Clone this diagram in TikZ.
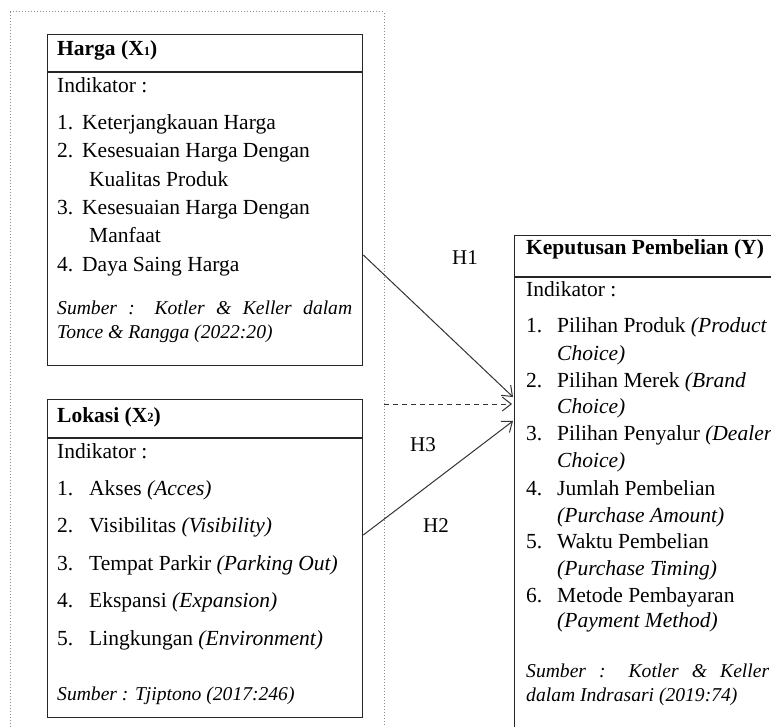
\documentclass[tikz,border=0pt]{standalone}
\usepackage{fontspec}
\setmainfont{Liberation Serif}
\usetikzlibrary{arrows.meta}
\begin{document}
\begin{tikzpicture}[x=1pt,y=-1pt,
  txt/.style={anchor=base west, inner sep=0pt, font=\fontsize{21.5}{25}\selectfont},
  hdr/.style={anchor=base west, inner sep=0pt, font=\fontsize{21.5}{25}\selectfont\bfseries},
  src/.style={anchor=base west, inner sep=0pt, font=\fontsize{19.6}{24}\selectfont\itshape, align=justify},
  boxline/.style={draw=black!85, line width=1.3pt},
  outer/.style={draw=black!45, line width=1pt, dotted},
  arr/.style={draw=black!80, line width=1pt, -{Straight Barb[length=9pt,width=14pt]}},
  lbl/.style={anchor=base west, inner sep=0pt, font=\fontsize{21}{25}\selectfont}]
\useasboundingbox (0,0) rectangle (771,727);
\clip (0,0) rectangle (771,727);
\fill[white] (0,0) rectangle (771,727);
% outer dotted frame
\draw[outer] (10,12) -- (384,12) -- (384,740);
\draw[outer] (10,12) -- (10,740);
\coordinate (oR) at (384,404);
% Harga box
\node[boxline, minimum width=315pt, minimum height=331pt, anchor=north west, inner sep=0pt] (harga) at (47,34) {};
\draw[boxline] (47,72) -- (362,72);
\node[hdr] (h0) at (57,56) {Harga (X\raisebox{0.5pt}{\fontsize{12.5}{12}\selectfont 1})};
\node[txt] (h1) at (57,93) {Indikator :};
\node[txt] (h2a) at (57,130) {1.};
\node[txt] (h2) at (82,130) {Keterjangkauan Harga};
\node[txt] (h3a) at (57,158) {2.};
\node[txt] (h3) at (82,158) {Kesesuaian Harga Dengan};
\node[txt] (h3b) at (89,187) {Kualitas Produk};
\node[txt] (h4a) at (57,215) {3.};
\node[txt] (h4) at (82,215) {Kesesuaian Harga Dengan};
\node[txt] (h4b) at (89,243) {Manfaat};
\node[txt] (h5a) at (57,272) {4.};
\node[txt] (h5) at (82,272) {Daya Saing Harga};
\node[src, text width=295pt] (hs) at (57,315) {Sumber : Kotler \& Keller dalam\linebreak Tonce \& Rangga (2022:20)};
% Lokasi box
\node[boxline, minimum width=315pt, minimum height=318pt, anchor=north west, inner sep=0pt] (lokasi) at (47,399) {};
\draw[boxline] (47,438) -- (362,438);
\node[hdr] (l0) at (57,422) {Lokasi (X\raisebox{0.5pt}{\fontsize{12.5}{12}\selectfont 2})};
\node[txt] (l1) at (57,458) {Indikator :};
\node[txt] (l2a) at (57,495) {1.};
\node[txt] (l2) at (89,495) {Akses \textit{(Acces)}};
\node[txt] (l3a) at (57,532) {2.};
\node[txt] (l3) at (89,532) {Visibilitas \textit{(Visibility)}};
\node[txt] (l4a) at (57,570) {3.};
\node[txt] (l4) at (89,570) {Tempat Parkir \textit{(Parking Out)}};
\node[txt] (l5a) at (57,607) {4.};
\node[txt] (l5) at (89,607) {Ekspansi \textit{(Expansion)}};
\node[txt] (l6a) at (57,645) {5.};
\node[txt] (l6) at (89,645) {Lingkungan \textit{(Environment)}};
\node[src] (ls) at (57,700) {Sumber : Tjiptono (2017:246)};
% Keputusan box
\node[boxline, minimum width=300pt, minimum height=520pt, anchor=north west, inner sep=0pt] (kep) at (514,235) {};
\draw[boxline] (514,277) -- (790,277);
\node[hdr] (k0) at (526,255) {Keputusan Pembelian (Y)};
\node[txt] (k1) at (526,297) {Indikator :};
\node[txt] (k2a) at (526,333) {1.};
\node[txt] (k2) at (557,333) {Pilihan Produk \textit{(Product}};
\node[txt] (k2b) at (557,360) {\textit{Choice)}};
\node[txt] (k3a) at (526,387) {2.};
\node[txt] (k3) at (557,387) {Pilihan Merek \textit{(Brand}};
\node[txt] (k3b) at (557,413) {\textit{Choice)}};
\node[txt] (k4a) at (526,440) {3.};
\node[txt] (k4) at (557,440) {Pilihan Penyalur \textit{(Dealer}};
\node[txt] (k4b) at (557,467) {\textit{Choice)}};
\node[txt] (k5a) at (526,495) {4.};
\node[txt] (k5) at (557,495) {Jumlah Pembelian};
\node[txt] (k5b) at (557,522) {\textit{(Purchase Amount)}};
\node[txt] (k6a) at (526,548) {5.};
\node[txt] (k6) at (557,548) {Waktu Pembelian};
\node[txt] (k6b) at (557,575) {\textit{(Purchase Timing)}};
\node[txt] (k7a) at (526,602) {6.};
\node[txt] (k7) at (557,602) {Metode Pembayaran};
\node[txt] (k7b) at (557,627) {\textit{(Payment Method)}};
\node[src, text width=243pt] (ks) at (526,677) {Sumber : Kotler \& Keller\linebreak dalam Indrasari (2019:74)};
% connectors
\coordinate (t1) at (513,397);
\coordinate (t2) at (513,421);
\coordinate (t3) at (512,404);
\draw[arr] (harga.east |- 0,255) -- (t1);
\draw[arr] (lokasi.east |- 0,535) -- (t2);
\draw[arr, dash pattern=on 5pt off 4pt] (oR) -- (t3);
% labels
\node[lbl] (H1) at (452,265) {H1};
\node[lbl] (H3) at (410,451) {H3};
\node[lbl] (H2) at (423,532) {H2};
\end{tikzpicture}
\end{document}
